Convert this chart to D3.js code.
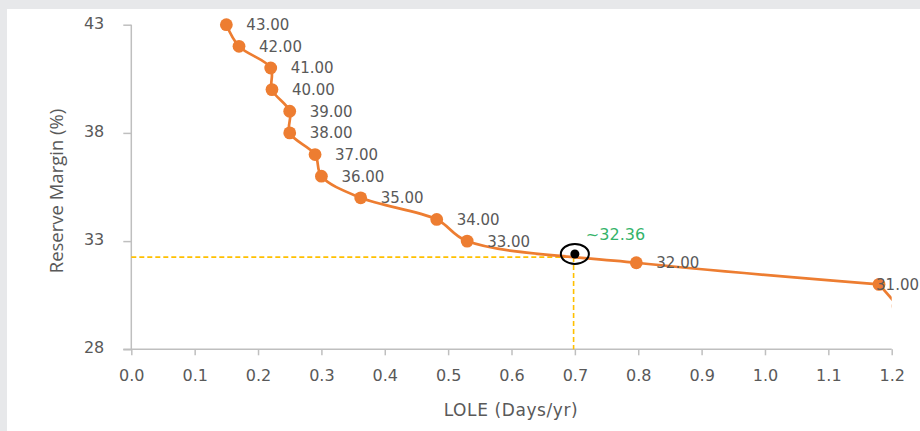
<!DOCTYPE html>
<html>
<head>
<meta charset="utf-8">
<script src="https://cdn.jsdelivr.net/npm/d3@7"></script>
<style>
  html, body { margin: 0; padding: 0; background: #e7e8ea; }
  svg { display: block; }
</style>
</head>
<body>
<svg id="chart" width="920" height="431"></svg>
<script>
// ---- data ----
const lole   = [0.15, 0.17, 0.22, 0.222, 0.25, 0.25, 0.29, 0.30, 0.362, 0.482, 0.53, 0.797, 1.18, 1.21];
const margin = [43, 42, 41, 40, 39, 38, 37, 36, 35, 34, 33, 32, 31, 30];
const pointLabels = ["43.00","42.00","41.00","40.00","39.00","38.00","37.00","36.00","35.00","34.00","33.00","32.00","31.00","30.00"];
const xTicks = [0,0.1,0.2,0.3,0.4,0.5,0.6,0.7,0.8,0.9,1.0,1.1,1.2];
const yTicks = [28,33,38,43];
const target = { x: 0.70, y: 32.36, label: "~32.36" };
const guide  = { x: 0.698, y: 32.26 };
const xTitle = "LOLE (Days/yr)";
const yTitle = "Reserve Margin (%)";

// ---- layout ----
const W = 920, H = 431;
const svg = d3.select("#chart");
svg.append("rect").attr("width", W).attr("height", H).attr("fill", "#e7e8ea");
svg.append("rect").attr("x", 7).attr("y", 9).attr("width", W - 7).attr("height", H - 9).attr("fill", "#ffffff");

const x = d3.scaleLinear().domain([0, 1.2]).range([131.3, 891.7]);
const y = d3.scaleLinear().domain([28, 43]).range([349.3, 24.7]);

const axisColor = "#bfbfbf", textColor = "#595959";
const font = "DejaVu Sans, Verdana, sans-serif";

// clip to x domain
svg.append("clipPath").attr("id", "clip")
  .append("rect").attr("x", 0).attr("y", 0).attr("width", x(1.2)).attr("height", y(28));

// axes
const xAxis = svg.append("g").attr("transform", `translate(0,${y(28)})`)
  .call(d3.axisBottom(x).tickValues(xTicks).tickFormat(d3.format(".1f")).tickSize(6).tickPadding(14));
const yAxis = svg.append("g").attr("transform", `translate(${x(0)},0)`)
  .call(d3.axisLeft(y).tickValues(yTicks).tickFormat(d3.format("d")).tickSize(8).tickPadding(19));
[xAxis, yAxis].forEach(g => {
  g.select(".domain").attr("stroke", axisColor).attr("stroke-width", 1.5);
  g.selectAll(".tick line").attr("stroke", axisColor).attr("stroke-width", 1.5);
  g.selectAll(".tick text").attr("fill", textColor).attr("font-family", font).attr("font-size", 16);
});
yAxis.selectAll(".tick text").attr("dy", "0.22em");
yAxis.select(".domain").attr("d", `M0,${y(43)}V${y(28)}`);
xAxis.select(".domain").attr("d", `M${x(0)-8},0H${x(1.2)}`);

// axis titles
svg.append("text").attr("x", 511).attr("y", 416).attr("text-anchor", "middle")
  .attr("fill", textColor).attr("font-family", font).attr("font-size", 17).attr("letter-spacing", 0.6).text(xTitle);
svg.append("text").attr("transform", `translate(63,191) rotate(-90)`).attr("text-anchor", "middle")
  .attr("fill", textColor).attr("font-family", "Open Sans, sans-serif").attr("font-size", 18.5).text(yTitle);

// guide lines
const gold = "#ffc000";
svg.append("line").attr("x1", x(0)).attr("x2", x(guide.x)).attr("y1", y(guide.y)).attr("y2", y(guide.y))
  .attr("stroke", gold).attr("stroke-width", 1.6).attr("stroke-dasharray", "5,3");
svg.append("line").attr("x1", x(guide.x)).attr("x2", x(guide.x)).attr("y1", y(guide.y)).attr("y2", y(28))
  .attr("stroke", gold).attr("stroke-width", 1.6).attr("stroke-dasharray", "5,3");

// series
const pts = lole.map((v, i) => ({ x: v, y: margin[i], label: pointLabels[i] }));
const inRange = pts.filter(d => d.x <= 1.2);
const tail = pts.slice(inRange.length - 1);
const orange = "#ed7d31";
const plot = svg.append("g").attr("clip-path", "url(#clip)");
const lineGen = d3.line().x(d => x(d.x)).y(d => y(d.y)).curve(d3.curveCatmullRom.alpha(0.5));
plot.append("path").datum(inRange).attr("d", lineGen)
  .attr("fill", "none").attr("stroke", orange).attr("stroke-width", 2.7).attr("stroke-linejoin", "round");
plot.append("path").datum(tail).attr("d", lineGen)
  .attr("fill", "none").attr("stroke", orange).attr("stroke-width", 2.7);
plot.selectAll("circle.pt").data(pts).join("circle").attr("class", "pt")
  .attr("cx", d => x(d.x)).attr("cy", d => y(d.y)).attr("r", 6.4).attr("fill", orange);

svg.selectAll("text.lbl").data(inRange).join("text").attr("class", "lbl")
  .attr("x", d => x(d.x) + 20).attr("y", d => y(d.y)).attr("dy", "0.36em")
  .attr("fill", textColor).attr("font-family", font).attr("font-size", 15).text(d => d.label)
  .each(function () {
    const t = d3.select(this), w = this.getComputedTextLength();
    const x0 = +t.attr("x");
    if (x0 + w > W - 1) t.attr("x", W - 1 - w);
  });

// target marker
svg.append("ellipse").attr("cx", x(target.x)).attr("cy", y(target.y) - 1).attr("rx", 14).attr("ry", 10)
  .attr("fill", "none").attr("stroke", "#000").attr("stroke-width", 2);
svg.append("circle").attr("cx", x(target.x)).attr("cy", y(target.y) - 1).attr("r", 4.5).attr("fill", "#000");
svg.append("text").attr("x", x(target.x) + 11).attr("y", y(target.y) - 14.5)
  .attr("fill", "#34b36a").attr("font-family", font).attr("font-size", 16).text(target.label);
</script>
</body>
</html>
